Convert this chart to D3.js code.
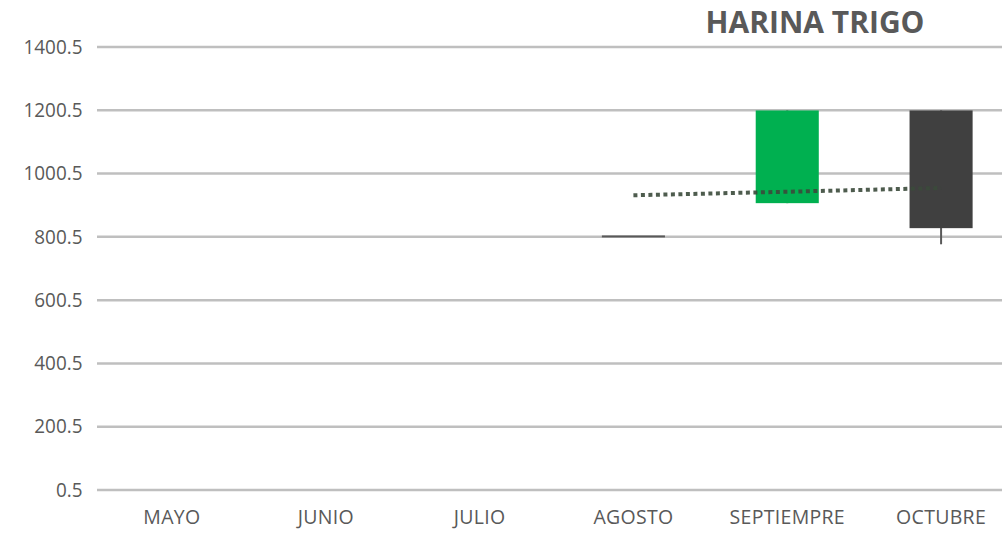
<!DOCTYPE html>
<html><head><meta charset="utf-8">
<script src="https://cdn.jsdelivr.net/npm/d3@7"></script>
<style>html,body{margin:0;padding:0;background:#fff;}svg{display:block;}</style>
</head><body><svg id="c" width="1002" height="537"></svg>
<script>
const categories = ["MAYO","JUNIO","JULIO","AGOSTO","SEPTIEMPRE","OCTUBRE"];
const openVals  = [null,null,null,805,907,1200];
const highVals  = [null,null,null,805,1200,1200];
const lowVals   = [null,null,null,805,907,777];
const closeVals = [null,null,null,805,1200,828];
const trendVals = [null,null,null,932,943,955];
const yTicks = [0.5,200.5,400.5,600.5,800.5,1000.5,1200.5,1400.5];
const title = "HARINA TRIGO";

const svg = d3.select("#c");
const font = "'Open Sans', 'Noto Sans', sans-serif";
const y = d3.scaleLinear().domain([0.5,1400.5]).range([490,47]);
const x = d3.scaleBand().domain(categories).range([95,1018]).padding(0);
const bw = x.bandwidth()*0.41;

// grid
const yAxis = d3.axisLeft(y).tickValues(yTicks).tickFormat(d=>d.toFixed(1)).tickSize(0).tickPadding(15);
const ga = svg.append("g").attr("transform","translate(97,0)").call(yAxis);
ga.select(".domain").remove();
ga.selectAll("text").attr("font-family",font).attr("font-size",19.5).attr("fill","#595959")
  .attr("transform","scale(0.97,1)");
svg.append("g").selectAll("line").data(yTicks).join("line")
  .attr("x1",97).attr("x2",1002).attr("y1",d=>y(d)).attr("y2",d=>y(d))
  .attr("stroke","#bfbfbf").attr("stroke-width",2.5);

// x axis labels
const xAxis = d3.axisBottom(x).tickSize(0).tickPadding(20);
const gx = svg.append("g").attr("transform","translate(0,490)").call(xAxis);
gx.select(".domain").remove();
gx.selectAll("text").attr("font-family",font).attr("font-size",19.5).attr("fill","#595959")
  .attr("letter-spacing","0.3");

const data = categories.map((c,i)=>({c,o:openVals[i],h:highVals[i],l:lowVals[i],cl:closeVals[i],t:trendVals[i]})).filter(d=>d.o!==null);
const cx = d=>x(d.c)+x.bandwidth()/2;

// wicks
svg.append("g").selectAll("line").data(data).join("line")
  .attr("x1",cx).attr("x2",cx).attr("y1",d=>y(d.h)).attr("y2",d=>y(d.l))
  .attr("stroke","#595959").attr("stroke-width",2);

// bodies
svg.append("g").selectAll("rect").data(data).join("rect")
  .attr("x",d=>cx(d)-bw/2).attr("width",bw)
  .attr("y",d=>y(Math.max(d.o,d.cl))).attr("height",d=>Math.max(2,Math.abs(y(d.o)-y(d.cl))))
  .attr("fill",d=>d.cl>d.o?"#00b050":(d.cl<d.o?"#404040":"#595959"));

// trend
const tdata = data.filter(d=>d.t!==null);
svg.append("path").datum(tdata)
  .attr("d",d3.line().x(cx).y(d=>y(d.t)))
  .attr("fill","none").attr("stroke","#3b4a3b").attr("stroke-width",4)
  .attr("stroke-dasharray","4,3.5").attr("opacity",0.9);

svg.append("text").text(title).attr("x",815).attr("y",33).attr("text-anchor","middle")
  .attr("font-family",font).attr("font-weight","bold").attr("font-size",30).attr("fill","#595959");
</script></body></html>
